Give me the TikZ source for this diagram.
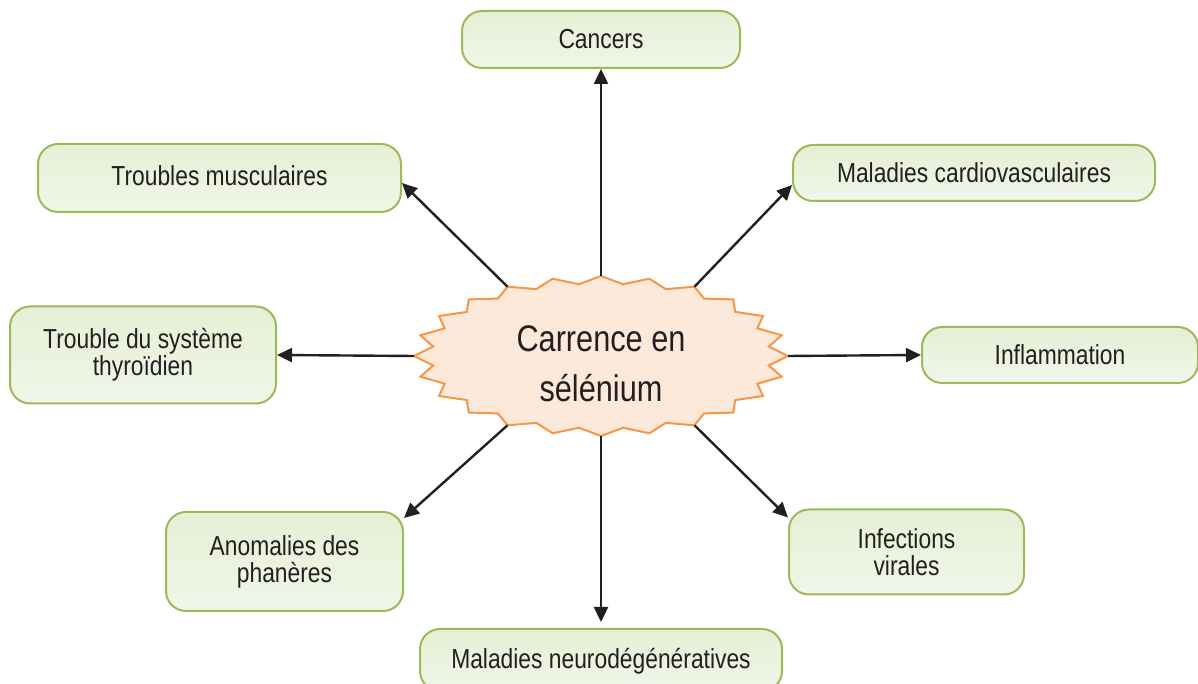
\documentclass[tikz,border=0pt]{standalone}
\usepackage{fontspec}
\setmainfont{Liberation Sans}[FakeStretch=0.83]
\usetikzlibrary{arrows.meta,calc}
\definecolor{txt}{HTML}{231F20}
\definecolor{boxline}{HTML}{9BBB59}
\definecolor{boxtop}{HTML}{E5EFD4}
\definecolor{boxbot}{HTML}{F1F6E9}
\definecolor{starfill}{HTML}{FDE9D9}
\definecolor{starline}{HTML}{F79646}
\tikzset{
  x=1pt,y=1pt,
  disease/.style={draw=boxline, line width=2pt, rounded corners=20pt,
    top color=boxtop, bottom color=boxbot, inner sep=0pt, align=center,
    text=txt, font=\fontsize{27.5}{27}\selectfont},
  link/.style={draw=txt, line width=2.4pt, -{Triangle[length=15pt,width=14pt]}},
  centertext/.style={inner sep=0pt, align=center, text=txt,
    font=\fontsize{37}{50}\selectfont}
}
\begin{document}
\begin{tikzpicture}
\useasboundingbox (0,0) rectangle (1198,684);
% starburst
\draw[draw=starline, fill=starfill, line width=2pt, line join=miter]
  (788,328) \foreach \i in {1,...,47} {
    -- ({601+187*(1-0.095*mod(\i,2))*cos(\i*7.5)}, {328+80*(1-0.095*mod(\i,2))*sin(\i*7.5)}) } -- cycle;
\node[centertext] (c) at (601,320.3) {Carrence en\\sélénium};
% star tips
\coordinate (t0) at (788,328);
\coordinate (t60) at (694.5,397.3);
\coordinate (t90) at (601,408);
\coordinate (t120) at (507.5,397.3);
\coordinate (t180) at (414,328);
\coordinate (t240) at (507.5,258.7);
\coordinate (t270) at (601,248);
\coordinate (t300) at (694.5,258.7);
% boxes
\node[disease, minimum width=278pt, minimum height=57pt] (cancers) at (601,644.5) {Cancers};
\node[disease, minimum width=363pt, minimum height=68pt] (musc) at (219.5,506) {\raisebox{4pt}{Troubles musculaires}};
\node[disease, minimum width=362pt, minimum height=56pt] (cardio) at (974,511) {\raisebox{1pt}{Maladies cardiovasculaires}};
\node[disease, minimum width=266pt, minimum height=97pt] (thy) at (143,329) {Trouble du système\\thyroïdien};
\node[disease, minimum width=276pt, minimum height=56pt] (infl) at (1060,329) {Inflammation};
\node[disease, minimum width=237pt, minimum height=99pt] (anom) at (284.5,122.5) {Anomalies des\\phanères};
\node[disease, minimum width=235pt, minimum height=85pt] (inf) at (906.5,132) {Infections\\virales};
\node[disease, minimum width=362pt, minimum height=62pt, text depth=0pt] (neuro) at (601,24) {\raisebox{4pt}{Maladies neurodégénératives}};
% connectors
\draw[link] (t90) -- (cancers.south);
\draw[link] (t120) -- ([yshift=-5pt]musc.east);
\draw[link] (t60) -- ([yshift=-12pt]cardio.west);
\draw[link] (t180) -- (thy.east);
\draw[link] (t0) -- (infl.west);
\draw[link] (t240) -- ([yshift=-7pt]anom.north east);
\draw[link] (t300) -- ([yshift=-9pt]inf.north west);
\draw[link, shorten >=6pt] (t270) -- (neuro.north);
\end{tikzpicture}
\end{document}
